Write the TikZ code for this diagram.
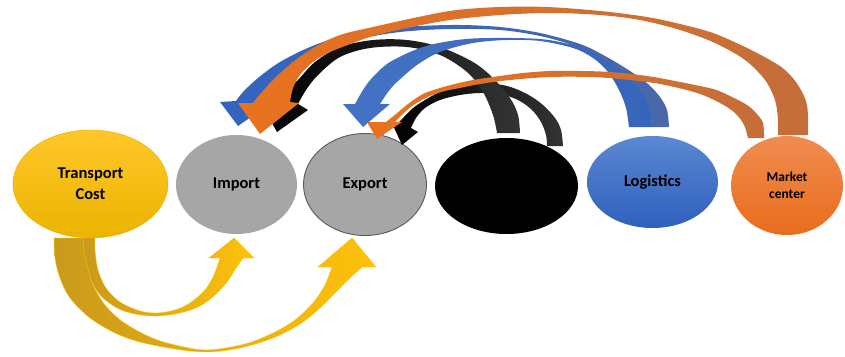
\documentclass[tikz,border=0pt]{standalone}
\usepackage{fontspec}
\setmainfont{Carlito}
\usetikzlibrary{shapes.geometric}
\definecolor{goldT}{HTML}{FFC72A}
\definecolor{goldB}{HTML}{EBB400}
\definecolor{goldD}{HTML}{C99A1C}
\definecolor{goldL}{HTML}{FFC20A}
\definecolor{grayF}{HTML}{A6A6A6}
\definecolor{grayE}{HTML}{5A5A5A}
\definecolor{bluT}{HTML}{5B88D2}
\definecolor{bluB}{HTML}{2F60BD}
\definecolor{bluA}{HTML}{3264BF}
\definecolor{bluC}{HTML}{4A68A8}
\definecolor{bluS}{HTML}{4472C4}
\definecolor{oraT}{HTML}{F08C50}
\definecolor{oraB}{HTML}{E86D1C}
\definecolor{oraA}{HTML}{E9721F}
\definecolor{oraC}{HTML}{C46E3A}
\definecolor{blkC}{HTML}{333333}
\begin{document}
\begin{tikzpicture}[x=1pt,y=-1pt,
  oval/.style={ellipse, inner sep=0pt, align=center, text=black, font=\bfseries\fontsize{16.5}{21}\selectfont},
  sm/.style={smooth, tension=0.55},
  goldarrow/.style={left color=goldD, right color=goldL, draw=goldL, line width=0.4pt},
  bluearrow/.style={left color=bluA, right color=bluC},
  bluearrowS/.style={left color=bluS, right color=bluA!80!bluC},
  orangearrow/.style={left color=oraA, right color=oraC},
  blackarrow/.style={left color=black, right color=blkC}]
\useasboundingbox (0,0) rectangle (845,356);

% ellipses
\node[oval, minimum width=155pt, minimum height=108pt, top color=goldT, bottom color=goldB, draw=goldB, line width=0.5pt] (tc) at (90.5,184) {Transport\\Cost};
\node[oval, minimum width=121pt, minimum height=99pt, fill=grayF] (imp) at (236.5,184.5) {Import};
\node[oval, minimum width=123pt, minimum height=102pt, fill=grayF, draw=grayE, line width=0.9pt] (expo) at (365,184.5) {Export};
\node[oval, minimum width=143pt, minimum height=96pt, fill=black] (blk) at (506.5,186) {};
\node[oval, minimum width=131pt, minimum height=92pt, top color=bluT, bottom color=bluB] (logi) at (652.5,182) {Logistics};
\node[oval, minimum width=112pt, minimum height=99pt, top color=oraT, bottom color=oraB, font=\bfseries\fontsize{13.5}{17.5}\selectfont] (mkt) at (787,185.5) {Market\\center};

% gold arrows (Transport Cost -> Import, Export)
\path[goldarrow] plot[sm] coordinates {(83,238) (84,258) (90,278) (100,295) (117,308) (135,314) (157,316) (180,313) (200,306) (215,295) (227,282) (236,268) (243,258)}
  -- (254,258) -- (234,238) -- (209,258) --
  plot[sm] coordinates {(220,258) (214,275) (205,290) (190,303) (175,310) (157,313) (140,311) (120,302) (106,288) (98,270) (95,250) (95,238)} -- cycle;
\path[goldarrow] plot[sm] coordinates {(54,238) (55,258) (60,278) (70,298) (90,318) (115,333) (140,342) (175,349) (207,352) (240,348) (273,338) (300,324) (320,308) (336,292) (350,278) (362,267)}
  -- (376,267) -- (352,238) -- (318,267) --
  plot[sm] coordinates {(332,267) (325,285) (313,303) (295,320) (273,333) (245,344) (207,350) (175,345) (150,337) (123,322) (105,305) (93,285) (87,265) (84,250) (83,238)} -- cycle;

% black arrows
\path[blackarrow] plot[sm] coordinates {(563,146) (561,130) (555,118) (543,105) (527,94) (507,86) (483,83) (460,86) (440,92) (425,100) (413,108) (404,117) (398,123)}
  -- (391,121) -- (402,145) -- (418,132) --
  plot[sm] coordinates {(411,128) (416,118) (425,108) (440,100) (460,95) (480,93) (500,94) (518,100) (532,110) (541,122) (546,135) (547,146)} -- cycle;
\path[blackarrow] plot[sm] coordinates {(520,133) (518,115) (510,98) (493,78) (473,62) (440,47) (407,40) (373,40) (340,47) (315,62) (298,80) (285,92) (273,99)}
  -- (257,96) -- (277,132) -- (308,110) --
  plot[sm] coordinates {(298,104) (306,90) (318,75) (340,57) (370,48) (407,47) (440,55) (467,72) (483,92) (493,115) (497,133)} -- cycle;

% blue arrows (Logistics -> Import, Export)
\path[bluearrow] plot[sm] coordinates {(669,127) (667,110) (660,97) (648,84) (630,71) (605,56) (580,44) (540,33) (500,27) (460,25) (420,26) (380,29) (345,35) (310,47) (280,62) (258,78) (243,92) (236,101)}
  -- (220,102) -- (238,126) -- (274,101) --
  plot[sm] coordinates {(262,100) (270,85) (290,68) (320,52) (355,40) (400,32) (450,29) (500,30) (540,36) (575,46) (605,61) (628,78) (643,97) (650,112) (652,127)} -- cycle;
\path[bluearrowS] plot[sm] coordinates {(652,127) (650,110) (642,93) (628,77) (608,62) (590,52) (573,45) (540,39) (490,38) (457,40) (423,47) (390,62) (372,78) (363,90) (355,104)}
  -- (343,104) -- (363,127) -- (390,104) --
  plot[sm] coordinates {(380,104) (388,92) (397,82) (417,65) (440,52) (473,43) (507,40) (540,41) (573,48) (593,58) (608,72) (619,90) (626,108) (629,127)} -- cycle;

% orange arrows (Market center -> Import, Export)
\path[orangearrow] plot[sm] coordinates {(808,135) (807,105) (798,85) (785,70) (770,60) (745,47) (713,33) (680,24) (647,17) (600,11) (547,7) (500,7) (457,10) (423,16) (373,27) (340,35) (315,47) (293,62) (275,78) (262,92) (253,103)}
  -- (238,103) -- (260,134) -- (299,103) --
  plot[sm] coordinates {(290,102) (293,88) (300,75) (313,62) (328,53) (345,46) (373,36) (407,28) (450,20) (500,15) (550,13) (600,15) (640,20) (680,30) (715,43) (745,60) (765,80) (775,100) (778,120) (778,135)} -- cycle;
\path[orangearrow] plot[sm] coordinates {(764,138) (763,123) (756,113) (747,105) (730,96) (713,89) (680,82) (647,76) (610,72) (580,71) (550,71) (523,73) (500,76) (473,80) (455,84) (440,88) (423,94) (408,104) (396,114) (386,122)}
  -- (367,122) -- (377,139) -- (402,122) --
  plot[sm] coordinates {(395,122) (405,112) (415,104) (430,96) (445,91) (460,88) (480,84) (510,80) (550,77) (590,77) (620,79) (660,84) (697,93) (720,103) (735,113) (744,125) (748,138)} -- cycle;
\end{tikzpicture}
\end{document}
